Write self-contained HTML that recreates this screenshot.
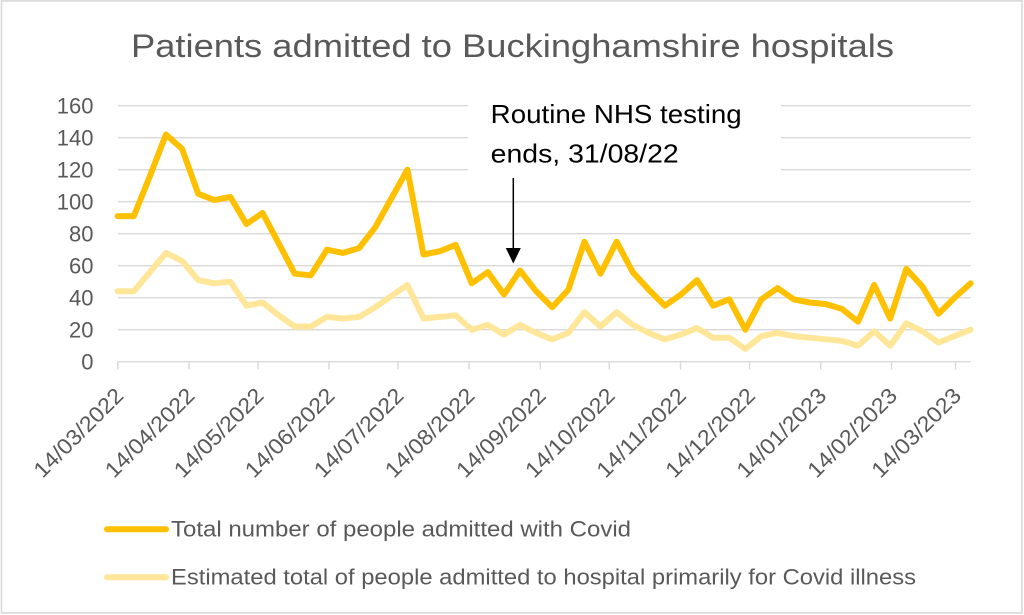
<!DOCTYPE html>
<html>
<head>
<meta charset="utf-8">
<style>
  html, body { margin: 0; padding: 0; background: #ffffff; }
  body { width: 1024px; height: 615px; overflow: hidden; }
  svg { display: block; }
  text { font-family: "Liberation Sans", sans-serif; }
</style>
</head>
<body>
<svg width="1024" height="615" viewBox="0 0 1024 615" xmlns="http://www.w3.org/2000/svg">
  <rect x="0" y="0" width="1024" height="615" fill="#ffffff"/>
  <rect x="1.5" y="0.9" width="1020.5" height="612" fill="none" stroke="#d9d9d9" stroke-width="1.6"/>

  <!-- Title -->
  <text x="131" y="57" font-size="32" fill="#595959" textLength="763" lengthAdjust="spacingAndGlyphs">Patients admitted to Buckinghamshire hospitals</text>

  <!-- Gridlines -->
  <g stroke="#d9d9d9" stroke-width="1.4" fill="none">
    <line x1="117.7" y1="105.7" x2="468" y2="105.7"/>
    <line x1="781" y1="105.7" x2="970.7" y2="105.7"/>
    <line x1="117.7" y1="137.7" x2="468" y2="137.7"/>
    <line x1="781" y1="137.7" x2="970.7" y2="137.7"/>
    <line x1="117.7" y1="169.7" x2="468" y2="169.7"/>
    <line x1="781" y1="169.7" x2="970.7" y2="169.7"/>
    <line x1="117.7" y1="201.7" x2="970.7" y2="201.7"/>
    <line x1="117.7" y1="233.7" x2="970.7" y2="233.7"/>
    <line x1="117.7" y1="265.7" x2="970.7" y2="265.7"/>
    <line x1="117.7" y1="297.7" x2="970.7" y2="297.7"/>
    <line x1="117.7" y1="329.7" x2="970.7" y2="329.7"/>
    <line x1="117.7" y1="361.7" x2="970.7" y2="361.7"/>
    <!-- ticks -->
    <line x1="117.7" y1="361.7" x2="117.7" y2="369.5"/>
    <line x1="189.0" y1="361.7" x2="189.0" y2="369.5"/>
    <line x1="258.0" y1="361.7" x2="258.0" y2="369.5"/>
    <line x1="329.0" y1="361.7" x2="329.0" y2="369.5"/>
    <line x1="398.0" y1="361.7" x2="398.0" y2="369.5"/>
    <line x1="469.0" y1="361.7" x2="469.0" y2="369.5"/>
    <line x1="540.3" y1="361.7" x2="540.3" y2="369.5"/>
    <line x1="609.3" y1="361.7" x2="609.3" y2="369.5"/>
    <line x1="680.5" y1="361.7" x2="680.5" y2="369.5"/>
    <line x1="749.5" y1="361.7" x2="749.5" y2="369.5"/>
    <line x1="820.7" y1="361.7" x2="820.7" y2="369.5"/>
    <line x1="891.5" y1="361.7" x2="891.5" y2="369.5"/>
    <line x1="955.5" y1="361.7" x2="955.5" y2="369.5"/>
  </g>

  <!-- Y axis labels -->
  <g font-size="22" fill="#595959" text-anchor="end">
    <text x="93.5" y="113.5">160</text>
    <text x="93.5" y="145.5">140</text>
    <text x="93.5" y="177.5">120</text>
    <text x="93.5" y="209.5">100</text>
    <text x="93.5" y="241.5">80</text>
    <text x="93.5" y="273.5">60</text>
    <text x="93.5" y="305.5">40</text>
    <text x="93.5" y="337.5">20</text>
    <text x="93.5" y="369.5">0</text>
  </g>

  <!-- X axis labels -->
  <g font-size="22" fill="#595959" text-anchor="end">
    <text transform="translate(124.7,397) rotate(-45)" textLength="116" lengthAdjust="spacingAndGlyphs">14/03/2022</text>
    <text transform="translate(196.0,397) rotate(-45)" textLength="116" lengthAdjust="spacingAndGlyphs">14/04/2022</text>
    <text transform="translate(265.0,397) rotate(-45)" textLength="116" lengthAdjust="spacingAndGlyphs">14/05/2022</text>
    <text transform="translate(336.0,397) rotate(-45)" textLength="116" lengthAdjust="spacingAndGlyphs">14/06/2022</text>
    <text transform="translate(405.0,397) rotate(-45)" textLength="116" lengthAdjust="spacingAndGlyphs">14/07/2022</text>
    <text transform="translate(476.0,397) rotate(-45)" textLength="116" lengthAdjust="spacingAndGlyphs">14/08/2022</text>
    <text transform="translate(547.3,397) rotate(-45)" textLength="116" lengthAdjust="spacingAndGlyphs">14/09/2022</text>
    <text transform="translate(616.3,397) rotate(-45)" textLength="116" lengthAdjust="spacingAndGlyphs">14/10/2022</text>
    <text transform="translate(687.5,397) rotate(-45)" textLength="116" lengthAdjust="spacingAndGlyphs">14/11/2022</text>
    <text transform="translate(756.5,397) rotate(-45)" textLength="116" lengthAdjust="spacingAndGlyphs">14/12/2022</text>
    <text transform="translate(827.7,397) rotate(-45)" textLength="116" lengthAdjust="spacingAndGlyphs">14/01/2023</text>
    <text transform="translate(898.5,397) rotate(-45)" textLength="116" lengthAdjust="spacingAndGlyphs">14/02/2023</text>
    <text transform="translate(962.5,397) rotate(-45)" textLength="116" lengthAdjust="spacingAndGlyphs">14/03/2023</text>
  </g>

  <!-- Series -->
  <g transform="translate(117.7,361.7) scale(16.094,-1.6)">
    <polyline fill="none" stroke="#FFE699" stroke-width="6" stroke-linejoin="round" stroke-linecap="round" vector-effect="non-scaling-stroke"
      points="0,44 1,44 2,56 3,68 4,63 5,51 6,49 7,50 8,35 9,37 10,29 11,22 12,22 13,28 14,27 15,28 16,34 17,41 18,48 19,27 20,28 21,29 22,20 23,23 24,17 25,23 26,18 27,14 28,18 29,31 30,22 31,31 32,23 33,18 34,14 35,17 36,21 37,15 38,15 39,8 40,16 41,18 42,16 43,15 44,14 45,13 46,10 47,19 48,10 49,24 50,19 51,12 52,16 53,20"/>
    <polyline fill="none" stroke="#FFC000" stroke-width="6" stroke-linejoin="round" stroke-linecap="round" vector-effect="non-scaling-stroke"
      points="0,91 1,91 2,116 3,142 4,133 5,105 6,101 7,103 8,86 9,93 10,74 11,55 12,54 13,70 14,68 15,71 16,84 17,102 18,120 19,67 20,69 21,73 22,49 23,56 24,42 25,57 26,44 27,34 28,45 29,75 30,55 31,75 32,56 33,45 34,35 35,42 36,51 37,35 38,39 39,20 40,39 41,46 42,39 43,37 44,36 45,33 46,25 47,48 48,27 49,58 50,47 51,30 52,40 53,49"/>
  </g>

  <!-- Annotation -->
  <text x="490.7" y="123" font-size="26" fill="#000000" textLength="251" lengthAdjust="spacingAndGlyphs">Routine NHS testing</text>
  <text x="490.7" y="162.5" font-size="26" fill="#000000" textLength="188" lengthAdjust="spacingAndGlyphs">ends, 31/08/22</text>
  <line x1="513.3" y1="178" x2="513.3" y2="250" stroke="#000000" stroke-width="1.5"/>
  <polygon points="505.8,248 520.8,248 513.3,263.5" fill="#000000"/>

  <!-- Legend -->
  <line x1="107" y1="529.3" x2="166" y2="529.3" stroke="#FFC000" stroke-width="6" stroke-linecap="round"/>
  <text x="171" y="536.5" font-size="22" fill="#595959" textLength="460" lengthAdjust="spacingAndGlyphs">Total number of people admitted with Covid</text>
  <line x1="107" y1="577.3" x2="166" y2="577.3" stroke="#FFE699" stroke-width="6" stroke-linecap="round"/>
  <text x="171" y="584.5" font-size="22" fill="#595959" textLength="745" lengthAdjust="spacingAndGlyphs">Estimated total of people admitted to hospital primarily for Covid illness</text>
</svg>
</body>
</html>
